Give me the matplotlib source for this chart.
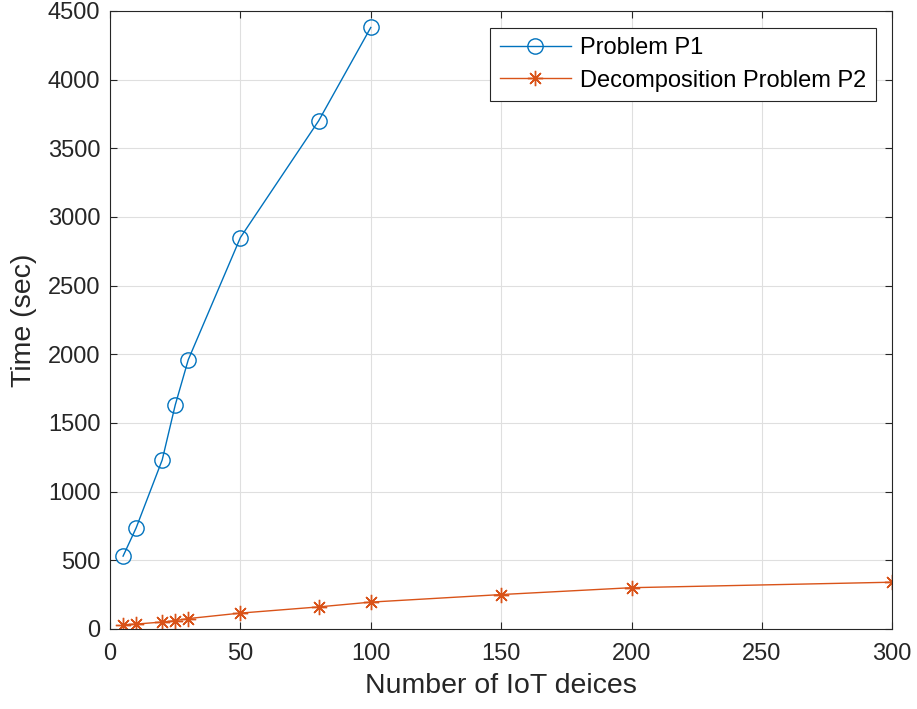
import matplotlib
matplotlib.use("Agg")
import matplotlib.pyplot as plt

# data
x_p1 = [5, 10, 20, 25, 30, 50, 80, 100]
y_p1 = [530, 735, 1230, 1630, 1960, 2850, 3700, 4380]
x_p2 = [5, 10, 20, 25, 30, 50, 80, 100, 150, 200, 300]
y_p2 = [30, 35, 50, 60, 75, 115, 160, 195, 250, 300, 340]
xticks = [0, 50, 100, 150, 200, 250, 300]
yticks = list(range(0, 4501, 500))

plt.rcParams["font.family"] = ["Liberation Sans", "DejaVu Sans"]

fig = plt.figure(figsize=(9.17, 7.09), dpi=100)
ax = fig.add_axes([0.12, 0.113, 0.853, 0.8715])

ax.plot(x_p1, y_p1, color="#0072BD", lw=1, marker="o", ms=11,
        mfc="none", mew=1, label="Problem P1")
ax.plot(x_p2, y_p2, color="#D95319", lw=1, marker=(8, 2, 0), ms=11,
        mew=1, label="Decomposition Problem P2")

ax.set_xlim(0, 300)
ax.set_ylim(0, 4500)
ax.set_xticks(xticks)
ax.set_yticks(yticks)
ax.grid(True, color="#dfdfdf", lw=0.8)
ax.set_axisbelow(True)
ax.tick_params(direction="in", labelsize=17, colors="#262626", length=5,
               top=True, right=True)
ax.tick_params(axis="x", pad=10)
ax.tick_params(axis="y", pad=7)
for s in ax.spines.values():
    s.set_color("#262626")
    s.set_linewidth(0.8)

ax.set_xlabel("Number of IoT deices", fontsize=20.5, color="#262626",
              labelpad=6)
ax.set_ylabel("Time (sec)", fontsize=20.5, color="#262626", labelpad=8)

leg = ax.legend(loc="upper right", fontsize=17, fancybox=False,
                framealpha=1, edgecolor="#262626", handlelength=3.0,
                handletextpad=0.4, borderpad=0.4, labelspacing=0.45,
                borderaxespad=0.7)
leg.get_frame().set_linewidth(0.8)

fig.savefig("out.png", dpi=100)
